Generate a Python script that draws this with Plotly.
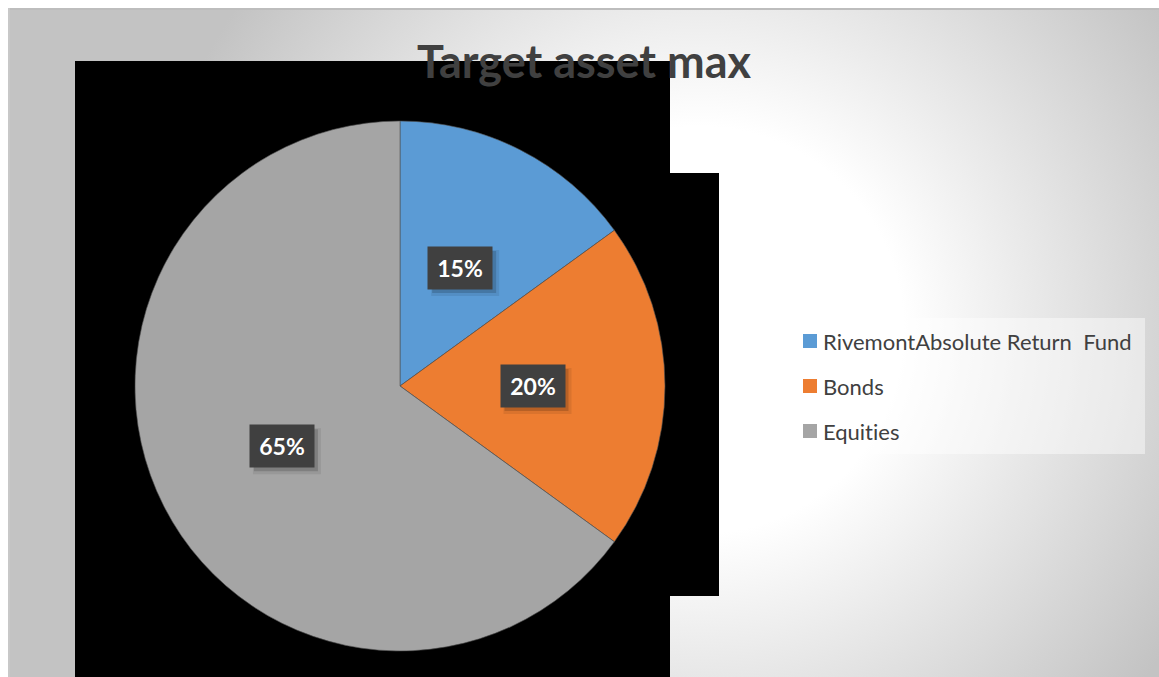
import base64
import math
import plotly.graph_objects as go

# ---- data ----
categories = ["RivemontAbsolute Return\u00a0 Fund", "Bonds", "Equities"]
shares = [15, 20, 65]
colors = ["#5B9BD5", "#ED7D31", "#A5A5A5"]
title_text = "Target asset max"

W, H = 1159, 677


def px_x(x):
    return x / W


def px_y(y):
    # pixel row from top -> paper fraction from bottom
    return 1 - y / H


def no_ligature(s):
    # keep Lato from fusing "ti" into a ligature
    return s.replace("ti", "t\u200ci")


# ---- background: soft radial grey gradient with a thin white frame ----
bg_svg = f"""<svg xmlns='http://www.w3.org/2000/svg' width='{W}' height='{H}'>
<defs>
<radialGradient id='g' gradientUnits='userSpaceOnUse' cx='700' cy='330' r='565'>
<stop offset='0' stop-color='#ffffff'/>
<stop offset='0.36' stop-color='#ffffff'/>
<stop offset='1' stop-color='#c3c3c3'/>
</radialGradient>
</defs>
<rect x='0' y='0' width='{W}' height='{H}' fill='#ffffff'/>
<rect x='8' y='8' width='{W - 8}' height='{H - 8}' fill='url(#g)'/>
<rect x='8' y='8' width='{W - 8}' height='2' fill='#bdbdbd'/>
<rect x='8' y='8' width='2' height='{H - 8}' fill='#c8c8c8'/>
</svg>"""
bg_uri = "data:image/svg+xml;base64," + base64.b64encode(bg_svg.encode()).decode()

# ---- pie geometry ----
pie_cx, pie_cy, pie_r = 400, 386, 265
dom_x = [px_x(pie_cx - pie_r), px_x(pie_cx + pie_r)]
dom_y = [px_y(pie_cy + pie_r), px_y(pie_cy - pie_r)]

fig = go.Figure()
fig.add_trace(go.Pie(
    labels=categories,
    values=shares,
    marker=dict(colors=colors, line=dict(color="rgba(80,80,80,0.8)", width=0.75)),
    sort=False,
    direction="clockwise",
    rotation=0,
    textinfo="none",
    hoverinfo="label+percent",
    domain=dict(x=dom_x, y=dom_y),
    showlegend=False,
))

shapes = []
annotations = []

# black backing blocks behind the pie
shapes.append(dict(type="rect", xref="paper", yref="paper", layer="below",
                   x0=px_x(75), x1=px_x(670), y0=px_y(677), y1=px_y(61),
                   fillcolor="#000000", line=dict(width=0)))
shapes.append(dict(type="rect", xref="paper", yref="paper", layer="below",
                   x0=px_x(669), x1=px_x(719), y0=px_y(596), y1=px_y(173),
                   fillcolor="#000000", line=dict(width=0)))

# percentage call-outs at half radius on each slice's mid angle
box_w, box_h = 64, 42
total = sum(shares)
cum = 0
for v in shares:
    mid = (cum + v / 2) / total * 2 * math.pi
    cum += v
    lx = pie_cx + 0.5 * pie_r * math.sin(mid)
    ly = pie_cy - 0.5 * pie_r * math.cos(mid)
    label = f"{round(v / total * 100)}%"
    # soft drop shadow under the call-out box
    for off, grow, alpha in ((5, 2, 0.08), (4, 0, 0.16)):
        shapes.append(dict(
            type="rect", xref="paper", yref="paper", layer="above",
            x0=px_x(lx - box_w / 2 + off - grow), x1=px_x(lx + box_w / 2 + off + grow),
            y0=px_y(ly + box_h / 2 + off + grow), y1=px_y(ly - box_h / 2 + off - grow),
            fillcolor=f"rgba(0,0,0,{alpha})", line=dict(width=0),
        ))
    annotations.append(dict(
        x=px_x(lx), y=px_y(ly), xref="paper", yref="paper",
        showarrow=False, xanchor="center", yanchor="middle",
        width=box_w - 18, height=box_h - 18, borderpad=9,
        text=f"<b>{label}</b>",
        font=dict(family="Lato", size=23, color="#ffffff"),
        bgcolor="#404040",
    ))

# legend panel
shapes.append(dict(type="rect", xref="paper", yref="paper", layer="below",
                   x0=px_x(790), x1=px_x(1145), y0=px_y(454), y1=px_y(318),
                   fillcolor="rgba(255,255,255,0.45)", line=dict(width=0)))
row0, row_gap = 341, 45
for i, (name, col) in enumerate(zip(categories, colors)):
    yc = row0 + i * row_gap
    shapes.append(dict(type="rect", xref="paper", yref="paper", layer="above",
                       x0=px_x(803), x1=px_x(817), y0=px_y(yc + 7), y1=px_y(yc - 7),
                       fillcolor=col, line=dict(width=0)))
    annotations.append(dict(
        x=px_x(821), y=px_y(yc), xref="paper", yref="paper", showarrow=False,
        xanchor="left", yanchor="middle", text=no_ligature(name),
        font=dict(family="Lato", size=22, color="#404040"),
    ))

fig.update_layout(
    width=W, height=H,
    margin=dict(l=0, r=0, t=0, b=0),
    paper_bgcolor="#ffffff",
    plot_bgcolor="rgba(0,0,0,0)",
    title=dict(text=f"<b>{title_text}</b>", x=px_x(584), xanchor="center",
               y=px_y(62), yanchor="middle",
               font=dict(family="Lato", size=45, color="#404040")),
    images=[dict(source=bg_uri, xref="paper", yref="paper", x=0, y=1,
                 sizex=1, sizey=1, sizing="stretch", xanchor="left", yanchor="top",
                 layer="below")],
    shapes=shapes,
    annotations=annotations,
    showlegend=False,
)

fig.write_html("out.html")
